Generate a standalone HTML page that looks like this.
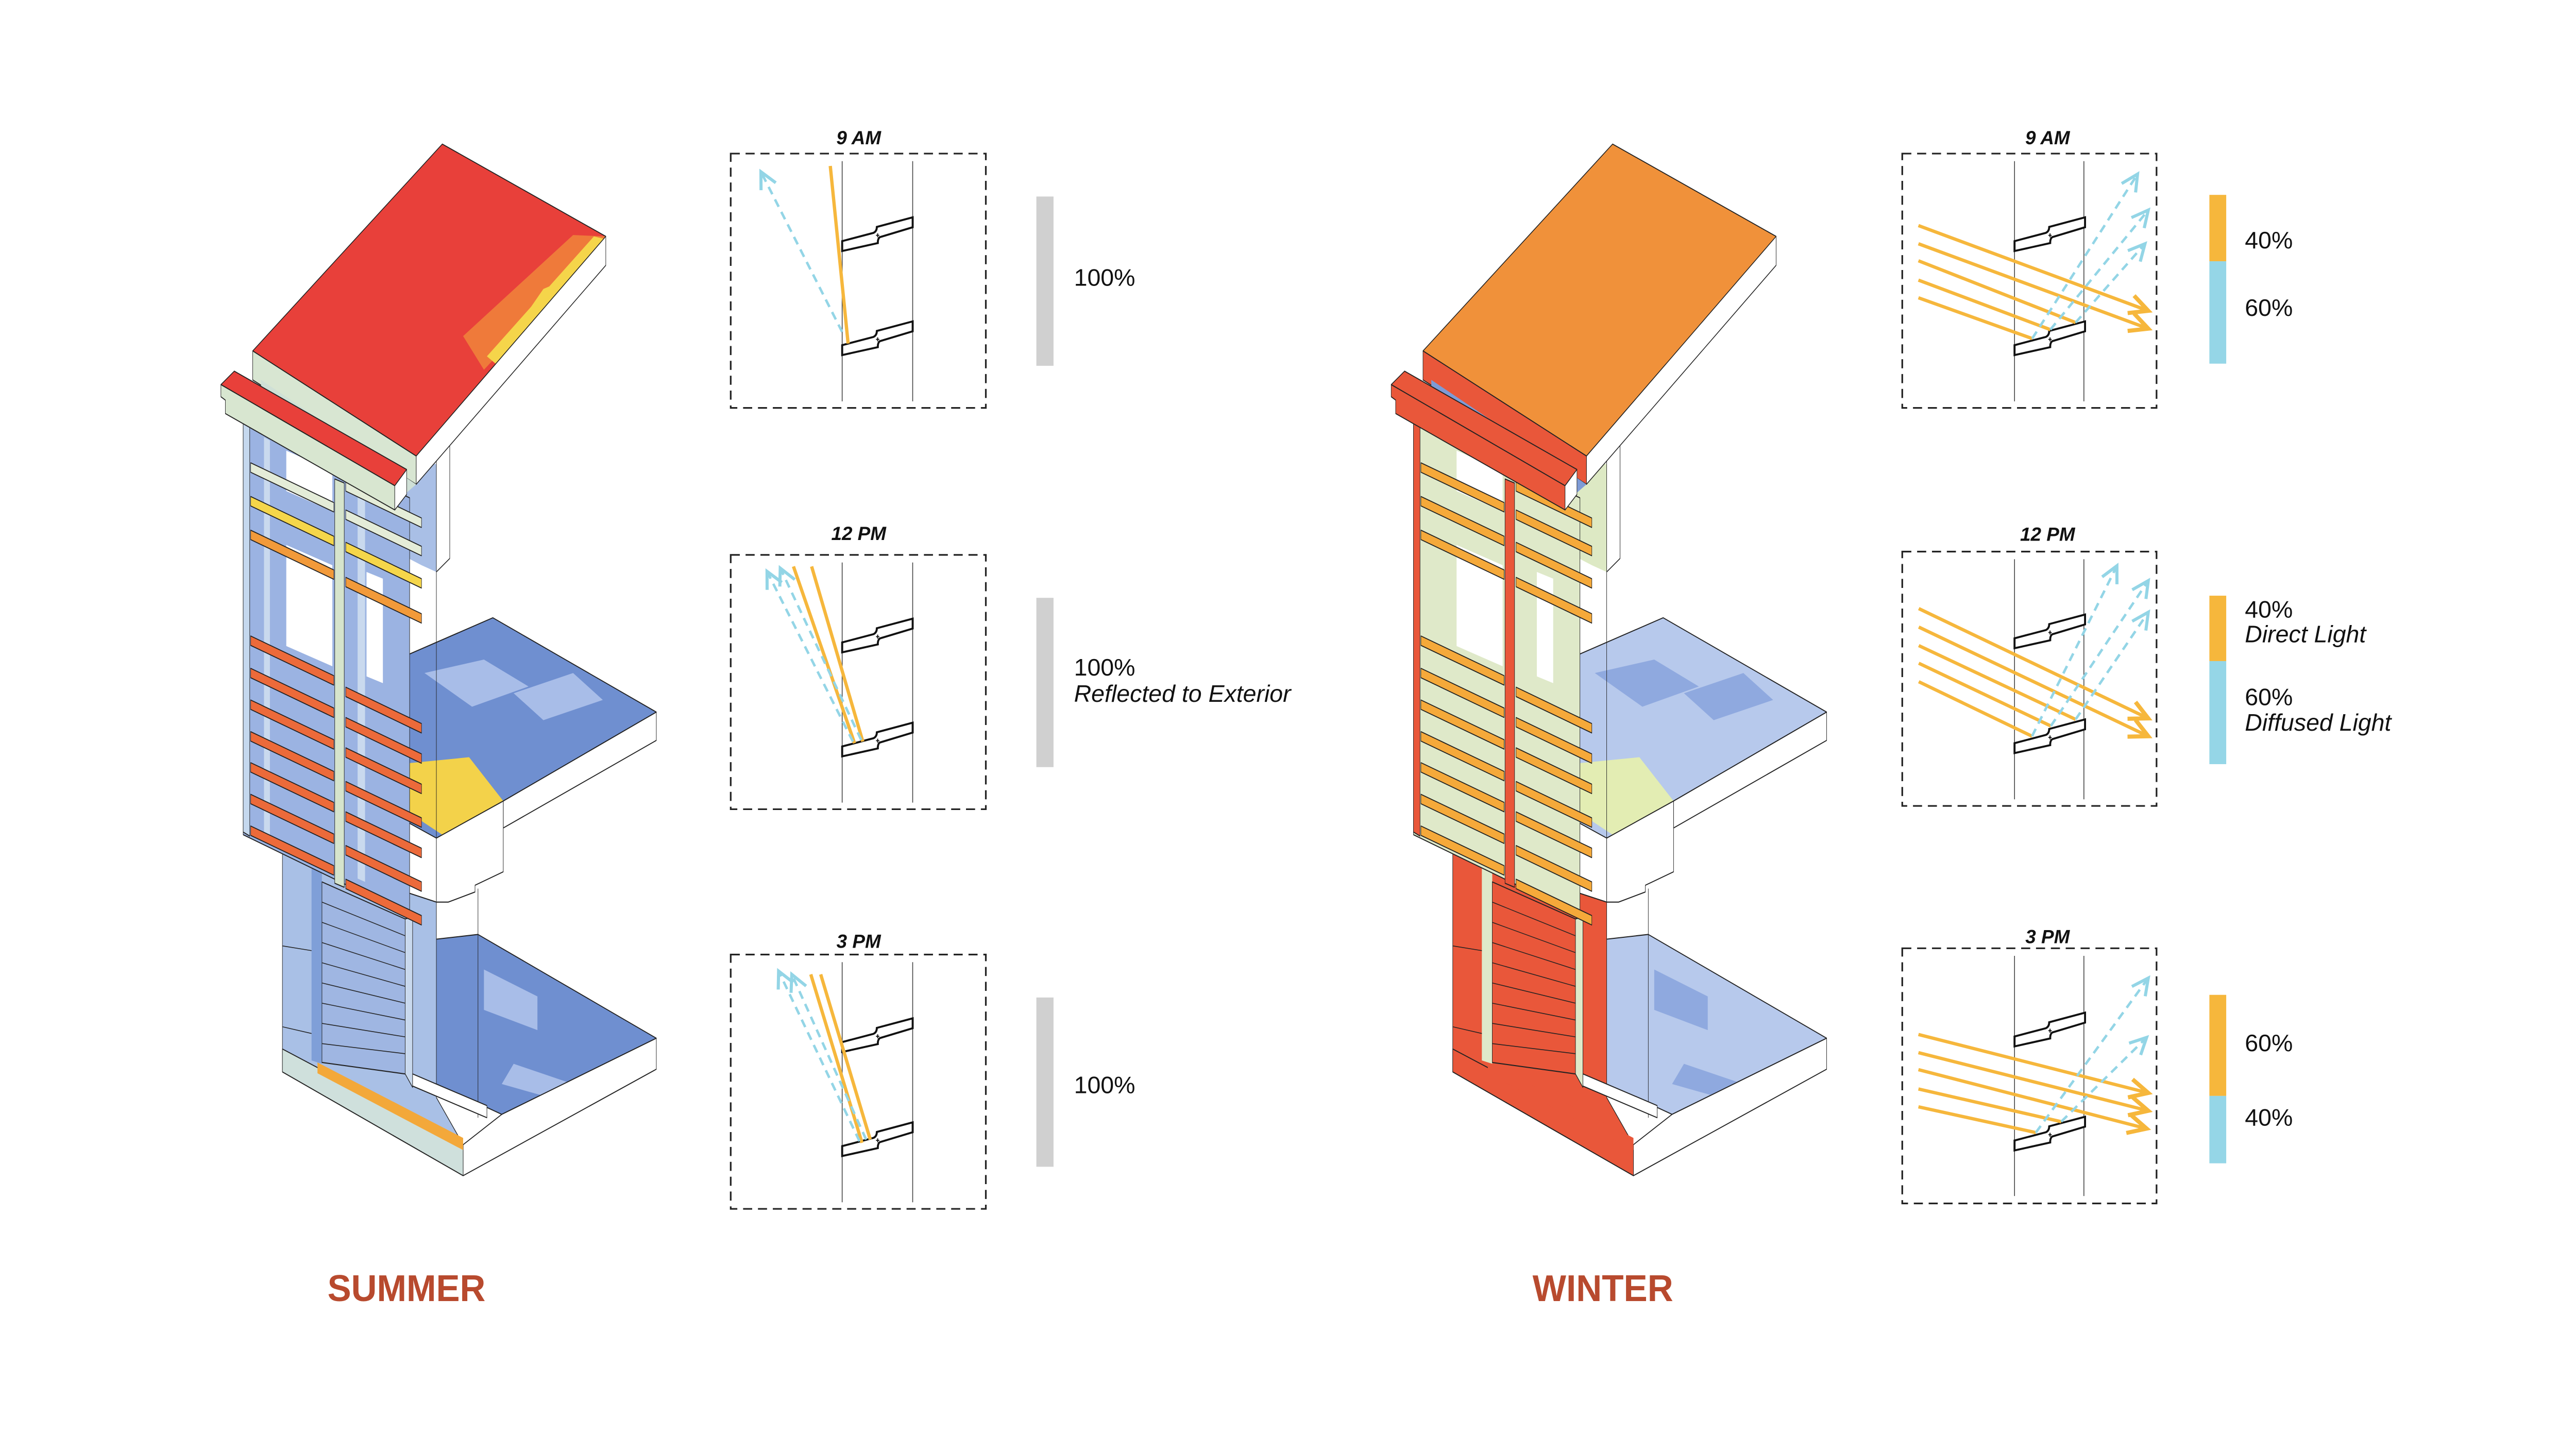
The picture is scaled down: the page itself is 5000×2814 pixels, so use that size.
<!DOCTYPE html>
<html><head><meta charset="utf-8">
<style>
html,body{margin:0;padding:0;background:#fff;}
svg{display:block;}
text{font-family:"Liberation Sans",Arial,sans-serif;}
.pct{font-size:14.5px;fill:#111;}
.it{font-size:14.5px;font-style:italic;fill:#111;}
.tl{font-size:11.5px;font-weight:bold;font-style:italic;fill:#111;text-anchor:middle;}
.big{font-size:22.5px;font-weight:bold;fill:#b84a2e;}
.box{fill:none;stroke:#222;stroke-width:1;stroke-dasharray:5.5 3.5;}
.vl{stroke:#444;stroke-width:0.5;}
.lv{fill:#fff;stroke:#111;stroke-width:1.2;stroke-linejoin:miter;}
.or{stroke:#f6b73c;stroke-width:2;fill:none;}
.bl{stroke:#93d5e6;stroke-width:1.5;fill:none;stroke-dasharray:5 3.5;}
</style></head>
<body>
<svg xmlns="http://www.w3.org/2000/svg" xmlns:xlink="http://www.w3.org/1999/xlink" width="5000" height="2814" viewBox="0 0 1560 878">
<defs>
<marker id="ao" markerUnits="userSpaceOnUse" markerWidth="20" markerHeight="20" viewBox="-12 -8 14 16" refX="0" refY="0" orient="auto"><path d="M-9,-4.5 L0,0 L-9,4.5" fill="none" stroke="#f6b73c" stroke-width="2"/></marker>
<marker id="ab" markerUnits="userSpaceOnUse" markerWidth="20" markerHeight="20" viewBox="-12 -8 14 16" refX="0" refY="0" orient="auto"><path d="M-8,-4 L0,0 L-8,4" fill="none" stroke="#93d5e6" stroke-width="1.5"/></marker>
<path id="lvp" class="lv" d="M0,0 L0,-6 L19,-11 Q21,-12 21,-14.6 L42.7,-20.4 L42.7,-14.4 L22.8,-8.4 Q21.5,-7.5 21.6,-4.8 Z"/>
<g id="lvg"><use xlink:href="#lvp"/><path d="M20.5,-9.5 h2 M21.5,-10.7 v2.4" stroke="#111" stroke-width="0.6"/></g>

<g id="bld" stroke="#222" stroke-width="1.6" stroke-linejoin="round">
  <polygon points="740,1195 880,1188 1480,1342 960,1455 740,1410" style="fill:var(--slab)"/>
  <polygon points="900,1240 1080,1280 1080,1330 900,1300" style="fill:var(--slab2)" stroke="none"/>
  <polygon points="1000,1380 1200,1410 1120,1430 960,1410" style="fill:var(--slab2)" stroke="none"/>
  <polygon points="1480,1342 1480,1388 830,1546 830,1500 960,1455" fill="#fff"/>
  <polygon points="555,790 930,718 1480,858 965,990 740,1045 555,1000" style="fill:var(--slab)"/>
  <polygon points="700,800 900,780 1050,820 860,850" style="fill:var(--slab2)" stroke="none"/>
  <polygon points="1000,830 1200,800 1300,840 1100,870" style="fill:var(--slab2)" stroke="none"/>
  <polygon points="620,935 850,925 965,990 760,1040 640,1005" style="fill:var(--hot)" stroke="none"/>
  <polygon points="1480,858 1480,900 965,1030 965,990" fill="#fff"/>
  <polygon points="740,1045 965,990 965,1095 870,1115 870,1125 780,1140 740,1140" fill="#fff"/>
  <polygon points="430,470 740,490 740,650 690,640 430,580" style="fill:var(--wall)" stroke="none"/>
  <polygon points="740,480 785,460 785,630 740,650" fill="#fff"/>
  <line x1="740" y1="650" x2="740" y2="1190"/>
  <line x1="880" y1="1120" x2="880" y2="1460"/>
  <polygon points="760,15 1310,152 672,478 122,322" style="fill:var(--roof)"/>
  <polygon points="1200,150 1310,152 1290,165 900,350 830,300" style="fill:var(--roofp1)" stroke="none"/>
  <polygon points="1270,152 1308,156 1250,190 950,345 910,330" style="fill:var(--roofp2)" stroke="none"/>
  <polygon points="1100,230 1180,215 1120,260 1050,262" style="fill:var(--roofp2)" stroke="none"/>
  <polygon points="1310,152 1310,195 672,520 672,478" fill="#fff"/>
  <polygon points="122,322 672,478 672,520 122,365" style="fill:var(--roofside)"/>
  <polygon points="150,365 672,520 620,540 150,410" style="fill:var(--under)" stroke="none"/>
  <polygon points="222,1065 740,1140 740,1430 830,1500 830,1546 222,1392" style="fill:var(--wall2)"/>
  <polygon points="320,1090 355,1095 355,1380 320,1375" style="fill:var(--wall3)" stroke="none"/>
  <polygon points="355,1110 635,1165 635,1395 355,1378" style="fill:var(--shut)"/>
  <g stroke-width="1.2">
    <line x1="355" y1="1140" x2="635" y2="1190"/><line x1="355" y1="1170" x2="635" y2="1215"/>
    <line x1="355" y1="1200" x2="635" y2="1240"/><line x1="355" y1="1230" x2="635" y2="1265"/>
    <line x1="355" y1="1260" x2="635" y2="1290"/><line x1="355" y1="1290" x2="635" y2="1315"/>
    <line x1="355" y1="1320" x2="635" y2="1340"/><line x1="355" y1="1350" x2="635" y2="1365"/>
    <line x1="222" y1="1205" x2="320" y2="1212"/><line x1="222" y1="1325" x2="320" y2="1335"/>
  </g>
  <polygon points="635,1165 660,1162 660,1415 635,1395" style="fill:var(--frame2)"/>
  <polygon points="222,1358 830,1500 830,1546 222,1392" style="fill:var(--band)"/>
  <polygon points="340,1378 830,1490 830,1508 340,1394" style="fill:var(--stripe)" stroke="none"/>
  <polygon points="660,1395 910,1442 910,1460 660,1413" fill="#fff"/>
  <polygon points="90,425 650,540 650,1160 90,1040" style="fill:var(--fac)"/>
  <polygon points="235,610 390,640 390,790 235,760" fill="#fff" stroke="none"/>
  <polygon points="235,470 390,500 390,560 235,530" fill="#fff" stroke="none"/>
  <polygon points="505,650 560,660 560,815 505,805" fill="#fff" stroke="none"/>
  <polygon points="160,450 180,455 180,1050 160,1045" style="fill:var(--frame2)" stroke="none"/>
  <polygon points="475,530 500,535 500,1110 475,1105" style="fill:var(--frame2)" stroke="none"/>
  <polygon points="90,430 112,434 112,1042 90,1036" style="fill:var(--frame)"/>
  <polygon points="398,512 430,518 430,1118 398,1112" style="fill:var(--mull)"/>
  <g stroke-width="1.5">
  <polygon points="115,488 395,547 395,561 115,502" style="fill:var(--l1)"/>
  <polygon points="115,538 395,597 395,611 115,552" style="fill:var(--l2)"/>
  <polygon points="115,588 395,647 395,661 115,602" style="fill:var(--l3)"/>
  <polygon points="115,745 395,804 395,818 115,759" style="fill:var(--l4)"/>
  <polygon points="115,793 395,852 395,866 115,807" style="fill:var(--l4)"/>
  <polygon points="115,840 395,899 395,913 115,854" style="fill:var(--l4)"/>
  <polygon points="115,887 395,946 395,960 115,901" style="fill:var(--l4)"/>
  <polygon points="115,933 395,992 395,1006 115,947" style="fill:var(--l4)"/>
  <polygon points="115,980 395,1039 395,1053 115,994" style="fill:var(--l4)"/>
  <polygon points="115,1027 395,1086 395,1100 115,1041" style="fill:var(--l4)"/>
  <polygon points="435,516 690,570 690,584 435,530" style="fill:var(--l1)"/>
  <polygon points="435,558 690,612 690,626 435,572" style="fill:var(--l1)"/>
  <polygon points="435,606 690,660 690,674 435,620" style="fill:var(--l2)"/>
  <polygon points="435,658 690,712 690,726 435,672" style="fill:var(--l3)"/>
  <polygon points="435,821 690,875 690,889 435,835" style="fill:var(--l4)"/>
  <polygon points="435,866 690,920 690,934 435,880" style="fill:var(--l4)"/>
  <polygon points="435,911 690,965 690,979 435,925" style="fill:var(--l4)"/>
  <polygon points="435,961 690,1015 690,1029 435,975" style="fill:var(--l4)"/>
  <polygon points="435,1006 690,1060 690,1074 435,1020" style="fill:var(--l4)"/>
  <polygon points="435,1056 690,1110 690,1124 435,1070" style="fill:var(--l4)"/>
  <polygon points="435,1106 690,1160 690,1174 435,1120" style="fill:var(--l4)"/>
  </g>
  <polygon points="15,372 60,352 640,498 600,522" style="fill:var(--beam)"/>
  <polygon points="15,372 600,522 600,558 30,415 30,395 15,390" style="fill:var(--beamf)"/>
  <polygon points="600,522 640,498 640,535 600,558" fill="#fff"/>
</g>
</defs>

<rect width="1560" height="878" fill="#fff"/>

<use xlink:href="#bld" transform="translate(131.05,81.12) scale(0.18,0.408)" style="--slab:#6f8fd0;--slab2:#a8bde8;--hot:#f3d24a;--wall:#a9bfe6;--roof:#e8403a;--roofp1:#ef7a3a;--roofp2:#f5d54a;--roofside:#d8e6d2;--under:#cfe0d6;--wall2:#a9c0e6;--wall3:#7f9fd8;--shut:#9fb6e2;--frame2:#c9d9ee;--band:#cfe0dc;--stripe:#f3a83a;--fac:#9bb3e2;--frame:#c5d8ee;--mull:#d6e4cc;--l1:#e4ecd8;--l2:#f5d64a;--l3:#f29a3a;--l4:#ec6a3a;--beam:#e8403a;--beamf:#d8e6d0"/>

<use xlink:href="#bld" transform="translate(839.8,81.12) scale(0.18,0.408)" style="--slab:#b7c9ec;--slab2:#8fa9df;--hot:#e3edb3;--wall:#dde9c4;--roof:#f0913a;--roofp1:#f0913a;--roofp2:#f0913a;--roofside:#e9573a;--under:#7e9bd6;--wall2:#e9573a;--wall3:#dfe9c9;--shut:#e9573a;--frame2:#dfe9c9;--band:#e9573a;--stripe:#e9573a;--fac:#dfe9c9;--frame:#e9573a;--mull:#e9573a;--l1:#f5a93a;--l2:#f5a93a;--l3:#f5a93a;--l4:#f5a93a;--beam:#e9573a;--beamf:#e9573a"/>

<g transform="translate(442.5,93)">
  <rect class="box" x="0" y="0" width="154.5" height="154"/>
  <line class="vl" x1="67.5" y1="4.6" x2="67.5" y2="150"/><line class="vl" x1="110.2" y1="4.6" x2="110.2" y2="150"/>
  <use xlink:href="#lvg" transform="translate(67.5,59)"/><use xlink:href="#lvg" transform="translate(67.5,122)"/>
  <line class="or" x1="60.3" y1="7.5" x2="71.1" y2="115"/>
  <line class="bl" x1="67.5" y1="108" x2="18.3" y2="11" marker-end="url(#ab)"/>
</g>
<text class="tl" x="520" y="87.4">9 AM</text>
<rect x="627.6" y="119" width="10.4" height="102.5" fill="#d0d0d0"/>
<text class="pct" x="650.4" y="173">100%</text>

<g transform="translate(442.5,336)">
  <rect class="box" x="0" y="0" width="154.5" height="154"/>
  <line class="vl" x1="67.5" y1="4.6" x2="67.5" y2="150"/><line class="vl" x1="110.2" y1="4.6" x2="110.2" y2="150"/>
  <use xlink:href="#lvg" transform="translate(67.5,59)"/><use xlink:href="#lvg" transform="translate(67.5,122)"/>
  <line class="or" x1="38" y1="7" x2="75" y2="114"/>
  <line class="or" x1="49" y1="7" x2="80" y2="113"/>
  <line class="bl" x1="74" y1="113" x2="22" y2="10" marker-end="url(#ab)"/>
  <line class="bl" x1="79" y1="112" x2="30" y2="8" marker-end="url(#ab)"/>
</g>
<text class="tl" x="520" y="327">12 PM</text>
<rect x="627.6" y="362" width="10.4" height="102.5" fill="#d0d0d0"/>
<text class="pct" x="650.4" y="409">100%</text>
<text class="it" x="650.4" y="425">Reflected to Exterior</text>

<g transform="translate(442.5,578)">
  <rect class="box" x="0" y="0" width="154.5" height="154"/>
  <line class="vl" x1="67.5" y1="4.6" x2="67.5" y2="150"/><line class="vl" x1="110.2" y1="4.6" x2="110.2" y2="150"/>
  <use xlink:href="#lvg" transform="translate(67.5,59)"/><use xlink:href="#lvg" transform="translate(67.5,122)"/>
  <line class="or" x1="48.5" y1="12" x2="79.5" y2="114"/>
  <line class="or" x1="54.5" y1="12" x2="84.5" y2="112"/>
  <line class="bl" x1="78" y1="113" x2="29" y2="10" marker-end="url(#ab)"/>
  <line class="bl" x1="82" y1="112" x2="37" y2="12" marker-end="url(#ab)"/>
</g>
<text class="tl" x="520" y="574">3 PM</text>
<rect x="627.6" y="604" width="10.4" height="102.5" fill="#d0d0d0"/>
<text class="pct" x="650.4" y="662">100%</text>

<g transform="translate(1152,93)">
  <rect class="box" x="0" y="0" width="154" height="154"/>
  <line class="vl" x1="68" y1="4.6" x2="68" y2="150"/><line class="vl" x1="110" y1="4.6" x2="110" y2="150"/>
  <use xlink:href="#lvg" transform="translate(68,59)"/><use xlink:href="#lvg" transform="translate(68,122)"/>
  <line class="or" x1="9.8" y1="43.6" x2="149" y2="95.2" marker-end="url(#ao)"/>
  <line class="or" x1="9.8" y1="54.6" x2="149" y2="106" marker-end="url(#ao)"/>
  <line class="or" x1="9.8" y1="64.9" x2="105" y2="102.3"/>
  <line class="or" x1="9.8" y1="76.6" x2="89.7" y2="106.6"/>
  <line class="or" x1="9.8" y1="87.3" x2="78.7" y2="112"/>
  <line class="bl" x1="78.7" y1="112" x2="142.5" y2="12.4" marker-end="url(#ab)"/>
  <line class="bl" x1="89.7" y1="106.6" x2="149" y2="34.2" marker-end="url(#ab)"/>
  <line class="bl" x1="105" y1="102.3" x2="147" y2="54.6" marker-end="url(#ab)"/>
</g>
<text class="tl" x="1240" y="87.4">9 AM</text>
<rect x="1338" y="118" width="10.2" height="40.2" fill="#f6b73c"/>
<rect x="1338" y="158.2" width="10.2" height="62" fill="#95d6e7"/>
<text class="pct" x="1359.5" y="150.4">40%</text>
<text class="pct" x="1359.5" y="191.2">60%</text>

<g transform="translate(1152,334)">
  <rect class="box" x="0" y="0" width="154" height="154"/>
  <line class="vl" x1="68" y1="4.6" x2="68" y2="150"/><line class="vl" x1="110" y1="4.6" x2="110" y2="150"/>
  <use xlink:href="#lvg" transform="translate(68,58.5)"/><use xlink:href="#lvg" transform="translate(68,122)"/>
  <line class="or" x1="10" y1="34.5" x2="149" y2="101" marker-end="url(#ao)"/>
  <line class="or" x1="10" y1="45.7" x2="149" y2="111.8" marker-end="url(#ao)"/>
  <line class="or" x1="10" y1="56.9" x2="105" y2="101.6"/>
  <line class="or" x1="10" y1="67.6" x2="90" y2="105.6"/>
  <line class="or" x1="10" y1="78.8" x2="78.6" y2="111.8"/>
  <line class="bl" x1="78.6" y1="111.8" x2="130" y2="8.6" marker-end="url(#ab)"/>
  <line class="bl" x1="90" y1="105.6" x2="149" y2="17.6" marker-end="url(#ab)"/>
  <line class="bl" x1="105" y1="101.6" x2="149" y2="36.7" marker-end="url(#ab)"/>
</g>
<text class="tl" x="1240" y="327.5">12 PM</text>
<rect x="1338" y="360.7" width="10.2" height="39.6" fill="#f6b73c"/>
<rect x="1338" y="400.3" width="10.2" height="62.4" fill="#95d6e7"/>
<text class="pct" x="1359.5" y="374">40%</text>
<text class="it" x="1359.5" y="389">Direct Light</text>
<text class="pct" x="1359.5" y="427">60%</text>
<text class="it" x="1359.5" y="442.5">Diffused Light</text>

<g transform="translate(1152,574.2)">
  <rect class="box" x="0" y="0" width="154" height="154.5"/>
  <line class="vl" x1="68" y1="4.6" x2="68" y2="150"/><line class="vl" x1="110" y1="4.6" x2="110" y2="150"/>
  <use xlink:href="#lvg" transform="translate(68,59.4)"/><use xlink:href="#lvg" transform="translate(68,122.4)"/>
  <line class="or" x1="9.8" y1="52.2" x2="149" y2="87.6" marker-end="url(#ao)"/>
  <line class="or" x1="9.8" y1="63.2" x2="149" y2="98.4" marker-end="url(#ao)"/>
  <line class="or" x1="9.8" y1="73.5" x2="148" y2="109.2" marker-end="url(#ao)"/>
  <line class="or" x1="9.8" y1="85.2" x2="96.3" y2="105"/>
  <line class="or" x1="9.8" y1="96" x2="80.9" y2="111.6"/>
  <line class="bl" x1="80.9" y1="111.6" x2="149" y2="18" marker-end="url(#ab)"/>
  <line class="bl" x1="96.3" y1="105" x2="148" y2="54" marker-end="url(#ab)"/>
</g>
<text class="tl" x="1240" y="571.2">3 PM</text>
<rect x="1338" y="602.4" width="10.2" height="61.2" fill="#f6b73c"/>
<rect x="1338" y="663.6" width="10.2" height="40.8" fill="#95d6e7"/>
<text class="pct" x="1359.5" y="636.5">60%</text>
<text class="pct" x="1359.5" y="681.6">40%</text>

<text class="big" x="198.3" y="787.8" textLength="95.7" lengthAdjust="spacingAndGlyphs">SUMMER</text>
<text class="big" x="928.1" y="787.8" textLength="85.2" lengthAdjust="spacingAndGlyphs">WINTER</text>
</svg>
</body></html>
